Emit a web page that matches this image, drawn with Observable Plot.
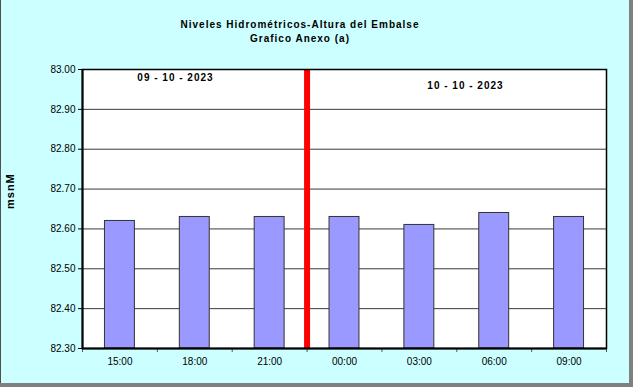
<!DOCTYPE html>
<html>
<head>
<meta charset="utf-8">
<script src="https://cdn.jsdelivr.net/npm/d3@7"></script>
<script src="https://cdn.jsdelivr.net/npm/@observablehq/plot@0.6"></script>
<style>
  html, body { margin: 0; padding: 0; background: #ffffff; }
  #wrap { position: relative; width: 633px; height: 387px; background: #808080; overflow: hidden; }
  #panel { position: absolute; left: 0; top: 0; width: 628px; height: 383px; background: #CCFFFF; border-left: 1px solid #505050; }
  #title { position: absolute; left: 0; top: 18px; width: 600px; text-align: center;
           font: bold 10px "Liberation Sans", Arial, sans-serif; line-height: 14px; color: #000; letter-spacing: 1px; }
  #chart { position: absolute; left: 0; top: 0; }
  #chart .bold-text text { letter-spacing: 1px; }
</style>
</head>
<body>
<div id="wrap">
  <div id="panel"></div>
  <div id="title">Niveles Hidrométricos-Altura del Embalse<br>Grafico Anexo (a)</div>
  <div id="chart"></div>
</div>
<script>
const categories = ["15:00", "18:00", "21:00", "00:00", "03:00", "06:00", "09:00"];
const levels = [82.62, 82.63, 82.63, 82.63, 82.61, 82.64, 82.63];
const yTicks = [82.30, 82.40, 82.50, 82.60, 82.70, 82.80, 82.90, 83.00];
const dayLabels = ["09 - 10 - 2023", "10 - 10 - 2023"];
const dayChangeIndex = 3;
const yLabel = "msnM";

const yMin = yTicks[0], yMax = yTicks[yTicks.length - 1];
const bars = categories.map((c, i) => ({cat: c, i, v: levels[i]}));
const dayPos = [
  {label: dayLabels[0], x: 1.242, y: 82.978},
  {label: dayLabels[1], x: 5.116, y: 82.960}
];

const chart = Plot.plot({
  width: 633,
  height: 387,
  marginTop: 69,
  marginLeft: 82,
  marginRight: 27,
  marginBottom: 39,
  style: {background: "transparent", fontFamily: "'Liberation Sans', Arial, sans-serif", fontSize: "10px", color: "#000"},
  x: {domain: [0, categories.length], axis: null, label: null},
  y: {domain: [yMin, yMax], axis: null, label: null},
  marks: [
    Plot.frame({fill: "#ffffff", stroke: null}),
    Plot.ruleY(yTicks, {stroke: "#3a3a3a", strokeWidth: 1}),
    Plot.rect(bars, {x1: d => d.i + 0.3, x2: d => d.i + 0.7, y1: yMin, y2: "v", fill: "#9999FF", stroke: "#333333", strokeWidth: 1}),
    Plot.ruleX([dayChangeIndex], {stroke: "#ff0000", strokeWidth: 6}),
    Plot.axisY(yTicks, {tickFormat: d => d.toFixed(2), tickSize: 4, tickPadding: 3, stroke: "#000", fill: "#000", label: null}),
    Plot.axisX(d3.range(categories.length + 1), {tickFormat: () => "", tickSize: 4, stroke: "#555", label: null}),
    Plot.axisX(categories.map((c, i) => i + 0.5), {tickFormat: d => categories[Math.floor(d)], tickSize: 0, tickPadding: 9, fill: "#000", label: null, className: "xlab"}),
    Plot.frame({stroke: "#000", strokeWidth: 1.5}),
    Plot.ruleX([0], {stroke: "#000", strokeWidth: 2}),
    Plot.ruleY([yMin], {stroke: "#000", strokeWidth: 2}),
    Plot.text(dayPos, {x: "x", y: "y", text: "label", fontWeight: "bold", fontSize: 10, fill: "#000", className: "bold-text"}),
    Plot.text([yLabel], {frameAnchor: "left", dx: -72, rotate: -90, fontWeight: "bold", fontSize: 11, fill: "#000", className: "bold-text"})
  ]
});
document.getElementById("chart").appendChild(chart);
</script>
</body>
</html>
